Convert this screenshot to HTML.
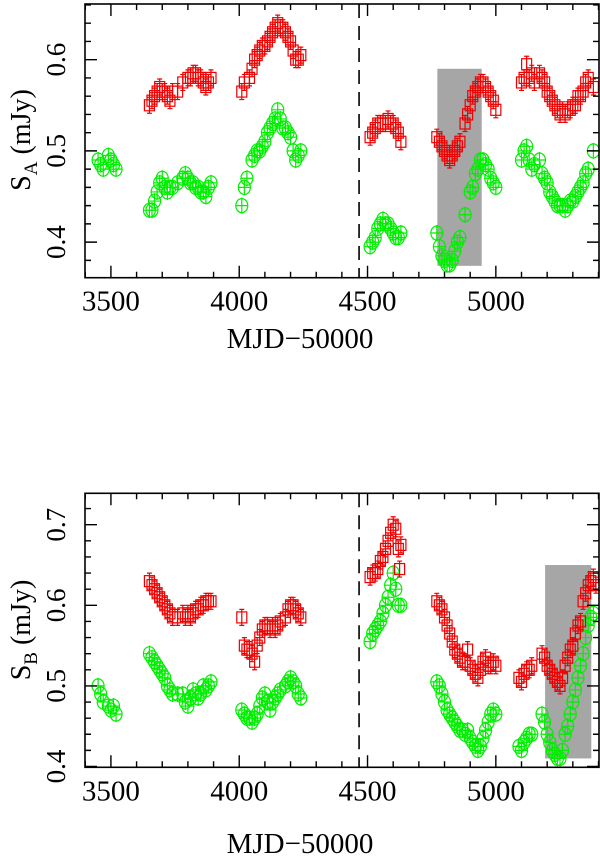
<!DOCTYPE html>
<html><head><meta charset="utf-8">
<style>html,body{margin:0;padding:0;background:#fff}svg{display:block}</style>
</head><body>
<svg id="chart" width="600" height="858" viewBox="0 0 600 858" xmlns="http://www.w3.org/2000/svg" font-family="Liberation Serif, serif"></svg>
<script>
const xTicks = [3500, 4000, 4500, 5000];
const yTicksA = [0.4, 0.5, 0.6];
const yTicksB = [0.4, 0.5, 0.6, 0.7];
const dashedLineMJD = 4467;
const shadeA = [4772, 4945, 0.374, 0.59];
const shadeB = [5192, 5372, 0.41, 0.65];
const redA = [[3650,0.55],[3660,0.555],[3670,0.56],[3680,0.565],[3690,0.57],[3700,0.565],[3710,0.565],[3720,0.56],[3730,0.555],[3740,0.565],[3760,0.565],[3780,0.575],[3800,0.58],[3810,0.58],[3820,0.585],[3830,0.585],[3840,0.58],[3850,0.58],[3860,0.575],[3870,0.57],[3880,0.575],[3890,0.58],
[4010,0.565],[4020,0.575],[4040,0.58],[4050,0.59],[4060,0.6],[4070,0.605],[4080,0.61],[4090,0.615],[4100,0.615],[4110,0.62],[4120,0.625],[4130,0.63],[4140,0.635],[4150,0.64],[4160,0.635],[4170,0.635],[4180,0.63],[4190,0.625],[4200,0.62],[4210,0.61],[4220,0.6],[4230,0.6],[4240,0.605],
[4510,0.515],[4520,0.52],[4530,0.525],[4540,0.53],[4550,0.53],[4560,0.53],[4570,0.53],[4580,0.535],[4590,0.53],[4600,0.53],[4610,0.525],[4620,0.52],[4630,0.51],
[4770,0.515],[4780,0.51],[4790,0.505],[4800,0.5],[4810,0.495],[4820,0.49],[4830,0.495],[4840,0.5],[4850,0.505],[4860,0.51],[4880,0.53],[4890,0.54],[4900,0.55],[4910,0.56],[4920,0.565],[4930,0.57],[4940,0.575],[4950,0.575],[4960,0.57],[4970,0.565],[4980,0.56],[4990,0.555],[5000,0.545],
[5100,0.575],[5110,0.58],[5120,0.595],[5130,0.58],[5140,0.585],[5150,0.575],[5170,0.585],[5180,0.58],[5190,0.575],[5200,0.565],[5210,0.56],[5220,0.555],[5230,0.55],[5240,0.545],[5250,0.54],[5260,0.545],[5270,0.54],[5280,0.545],[5290,0.545],[5300,0.55],[5310,0.55],[5320,0.56],[5330,0.56],[5340,0.565],[5350,0.575],[5360,0.58],[5380,0.57]];
const greenA = [[3450,0.49],[3460,0.485],[3470,0.48],[3490,0.495],[3500,0.49],[3510,0.485],[3520,0.48],
[3650,0.435],[3660,0.435],[3670,0.445],[3680,0.455],[3690,0.465],[3700,0.47],[3710,0.46],[3720,0.455],[3730,0.46],[3740,0.46],[3760,0.465],[3780,0.47],[3790,0.475],[3800,0.47],[3810,0.465],[3820,0.465],[3830,0.46],[3840,0.46],[3850,0.455],[3860,0.455],[3870,0.45],[3880,0.46],[3890,0.465],
[4010,0.44],[4020,0.46],[4030,0.47],[4050,0.49],[4060,0.495],[4070,0.5],[4080,0.5],[4090,0.505],[4100,0.51],[4110,0.52],[4120,0.525],[4130,0.53],[4140,0.535],[4150,0.545],[4160,0.535],[4170,0.525],[4180,0.525],[4190,0.52],[4200,0.515],[4210,0.5],[4220,0.49],[4230,0.495],[4240,0.5],
[4510,0.395],[4520,0.4],[4530,0.405],[4540,0.415],[4550,0.42],[4560,0.425],[4570,0.42],[4580,0.42],[4590,0.415],[4600,0.41],[4610,0.405],[4620,0.405],[4630,0.41],
[4770,0.41],[4780,0.395],[4790,0.385],[4800,0.38],[4810,0.375],[4820,0.375],[4830,0.38],[4840,0.39],[4850,0.4],[4860,0.405],[4880,0.43],[4900,0.455],[4910,0.46],[4920,0.475],[4930,0.48],[4940,0.49],[4950,0.49],[4960,0.485],[4970,0.48],[4980,0.47],[4990,0.465],[5000,0.46],
[5100,0.49],[5110,0.5],[5120,0.505],[5130,0.49],[5140,0.48],[5150,0.485],[5170,0.49],[5180,0.475],[5190,0.47],[5200,0.465],[5210,0.455],[5220,0.45],[5230,0.445],[5240,0.44],[5250,0.44],[5260,0.44],[5270,0.435],[5280,0.44],[5290,0.445],[5300,0.445],[5310,0.45],[5320,0.455],[5330,0.46],[5340,0.465],[5350,0.475],[5360,0.48],[5380,0.5]];
const redB = [[3650,0.63],[3660,0.625],[3670,0.62],[3680,0.615],[3690,0.61],[3700,0.605],[3710,0.6],[3720,0.595],[3730,0.59],[3740,0.585],[3760,0.585],[3780,0.59],[3790,0.585],[3800,0.59],[3810,0.585],[3820,0.59],[3830,0.595],[3840,0.595],[3850,0.6],[3860,0.6],[3870,0.605],[3880,0.605],[3890,0.605],
[4010,0.585],[4020,0.55],[4030,0.545],[4040,0.545],[4050,0.54],[4060,0.53],[4070,0.55],[4080,0.56],[4090,0.57],[4100,0.575],[4110,0.575],[4120,0.57],[4130,0.575],[4140,0.57],[4150,0.575],[4160,0.58],[4180,0.585],[4190,0.595],[4200,0.6],[4210,0.6],[4220,0.595],[4230,0.59],[4240,0.585],
[4510,0.635],[4520,0.64],[4530,0.64],[4540,0.645],[4550,0.655],[4560,0.66],[4570,0.67],[4580,0.68],[4590,0.69],[4600,0.7],[4610,0.695],[4620,0.67],[4630,0.675],[4625,0.645],
[4770,0.605],[4780,0.6],[4790,0.595],[4800,0.585],[4810,0.575],[4820,0.565],[4830,0.555],[4840,0.545],[4850,0.54],[4860,0.535],[4870,0.53],[4880,0.53],[4890,0.545],[4900,0.525],[4910,0.52],[4920,0.515],[4930,0.51],[4940,0.52],[4950,0.53],[4960,0.535],[4970,0.525],[4980,0.525],[4990,0.53],[5000,0.525],
[5090,0.51],[5100,0.505],[5110,0.515],[5120,0.52],[5130,0.52],[5140,0.525],[5180,0.54],[5190,0.535],[5200,0.525],[5210,0.52],[5220,0.515],[5230,0.51],[5240,0.505],[5250,0.5],[5260,0.51],[5270,0.525],[5280,0.535],[5290,0.545],[5300,0.55],[5310,0.565],[5320,0.575],[5330,0.58],[5340,0.605],[5350,0.615],[5360,0.625],[5370,0.63],[5380,0.635],[5390,0.625]];
const greenB = [[3450,0.5],[3460,0.49],[3470,0.48],[3490,0.475],[3500,0.47],[3510,0.475],[3520,0.465],
[3650,0.54],[3660,0.535],[3670,0.53],[3680,0.525],[3690,0.52],[3700,0.515],[3710,0.51],[3720,0.5],[3730,0.495],[3740,0.49],[3760,0.49],[3780,0.49],[3790,0.48],[3800,0.475],[3810,0.485],[3820,0.495],[3830,0.49],[3840,0.485],[3850,0.49],[3860,0.5],[3870,0.495],[3880,0.5],[3890,0.505],
[4010,0.47],[4020,0.465],[4030,0.46],[4040,0.46],[4050,0.455],[4060,0.46],[4070,0.465],[4080,0.475],[4090,0.485],[4100,0.49],[4110,0.48],[4120,0.47],[4130,0.48],[4140,0.485],[4150,0.49],[4160,0.495],[4180,0.5],[4190,0.505],[4200,0.51],[4210,0.505],[4220,0.5],[4230,0.49],[4240,0.485],
[4510,0.555],[4520,0.565],[4530,0.57],[4540,0.575],[4550,0.58],[4560,0.59],[4570,0.6],[4580,0.61],[4590,0.625],[4600,0.64],[4610,0.62],[4620,0.6],[4630,0.6],
[4770,0.505],[4780,0.5],[4790,0.49],[4800,0.48],[4810,0.47],[4820,0.465],[4830,0.46],[4840,0.455],[4850,0.45],[4860,0.445],[4870,0.445],[4880,0.44],[4890,0.445],[4900,0.435],[4910,0.43],[4920,0.425],[4930,0.42],[4940,0.425],[4950,0.435],[4960,0.445],[4970,0.455],[4980,0.465],[4990,0.47],[5000,0.465],
[5090,0.425],[5100,0.42],[5110,0.43],[5120,0.435],[5130,0.44],[5140,0.44],[5180,0.465],[5190,0.455],[5200,0.44],[5210,0.43],[5220,0.42],[5230,0.415],[5240,0.41],[5250,0.41],[5260,0.42],[5270,0.44],[5280,0.45],[5290,0.465],[5300,0.48],[5310,0.495],[5320,0.51],[5330,0.525],[5340,0.54],[5350,0.56],[5360,0.575],[5370,0.585],[5380,0.59]];

const NS = 'http://www.w3.org/2000/svg';
const svg = document.getElementById('chart');
function mk(tag, attrs, parent) {
  const e = document.createElementNS(NS, tag);
  for (const k in attrs) e.setAttribute(k, attrs[k]);
  (parent || svg).appendChild(e);
  return e;
}
const X0 = 85, X1 = 599, XMIN = 3399, XMAX = 5402;
function xs(v) { return X0 + (v - XMIN) / (XMAX - XMIN) * (X1 - X0); }

function panel(cfg) {
  const g = mk('g', {});
  
  
  const ys = v => cfg.top + (cfg.ymax - v) / (cfg.ymax - cfg.ymin) * (cfg.bot - cfg.top);
  const sh = mk('rect', {x: xs(cfg.shade[0]), y: ys(cfg.shade[3]), width: xs(cfg.shade[1]) - xs(cfg.shade[0]), height: ys(cfg.shade[2]) - ys(cfg.shade[3]), fill: '#a6a6a6'}, g);
  
  
  const dl = mk('line', {x1: xs(dashedLineMJD), x2: xs(dashedLineMJD), y1: cfg.top, y2: cfg.bot, stroke: '#000', 'stroke-width': 1.6, 'stroke-dasharray': '14,8'}, g);
  
  
  cfg.green.forEach(p => {
    const cx = xs(p[0]), cy = ys(p[1]);
    const m = mk('g', {stroke: '#00ee00', fill: 'none', 'stroke-width': 1.2}, g);
    
    
    mk('ellipse', {cx: cx, cy: cy, rx: 6, ry: 7}, m);
    mk('path', {d: `M${cx},${cy-8}V${cy+8}M${cx-6},${cy}H${cx+6}`}, m);
  });
  cfg.red.forEach(p => {
    const cx = xs(p[0]), cy = ys(p[1]);
    const m = mk('g', {stroke: '#ee0000', fill: 'none', 'stroke-width': 1.2}, g);
    
    
    mk('rect', {x: cx - 5, y: cy - 5.5, width: 10, height: 11}, m);
    mk('path', {d: `M${cx},${cy-8}V${cy+8}M${cx-2.5},${cy-8}H${cx+2.5}M${cx-2.5},${cy+8}H${cx+2.5}`}, m);
  });
  const fr = mk('rect', {x: X0, y: cfg.top, width: X1 - X0, height: cfg.bot - cfg.top, fill: 'none', stroke: '#000', 'stroke-width': 1.6}, g);
  
  
  let d = '';
  for (let v = 3400; v <= 5400; v += 100) {
    const x = xs(v), L = (v % 500 === 0) ? 12 : 6;
    d += `M${x},${cfg.bot}V${cfg.bot-L}M${x},${cfg.top}V${cfg.top+L}`;
  }
  for (let i = Math.ceil(cfg.ymin / 0.02 - 1e-6); i * 0.02 <= cfg.ymax + 1e-9; i++) {
    const v = i * 0.02, y = ys(v), L = (i % 5 === 0) ? 12 : 6;
    d += `M${X0},${y}H${X0+L}M${X1},${y}H${X1-L}`;
  }
  mk('path', {d: d, stroke: '#000', 'stroke-width': 1.4, fill: 'none'}, g);
  xTicks.forEach(v => {
    const t = mk('text', {x: xs(v), y: cfg.bot + 33, 'text-anchor': 'middle', 'font-size': 29}, g);
    
    
    t.textContent = v;
  });
  cfg.yticks.forEach(v => {
    const y = ys(v);
    const t = mk('text', {x: 0, y: 0, transform: `translate(65,${y}) rotate(-90)`, 'text-anchor': 'middle', 'font-size': 27}, g);
    
    
    t.textContent = v.toFixed(1);
  });
  const yl = mk('text', {transform: `translate(30,${cfg.ylabY}) rotate(-90)`, 'text-anchor': 'middle', 'font-size': 28}, g);
  
  
  yl.innerHTML = `S<tspan font-size="19" dy="7">${cfg.sub}</tspan><tspan dy="-7"> (mJy)</tspan>`;
  const xl = mk('text', {x: 300, y: cfg.titleY, 'text-anchor': 'middle', 'font-size': 29}, g);
  
  
  xl.textContent = 'MJD\u221250000';
}
panel({name: 'panel-a', top: 4, bot: 277.7, ymin: 0.361, ymax: 0.661, yticks: yTicksA, red: redA, green: greenA, shade: shadeA, sub: 'A', ylabY: 140, titleY: 348});
panel({name: 'panel-b', top: 493.3, bot: 767.3, ymin: 0.399, ymax: 0.739, yticks: yTicksB, red: redB, green: greenB, shade: shadeB, sub: 'B', ylabY: 630, titleY: 853});
</script>
</body></html>
